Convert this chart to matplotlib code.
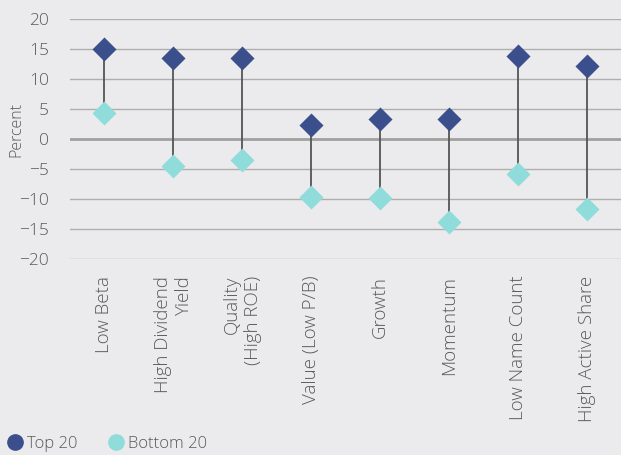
import matplotlib
matplotlib.use("Agg")
import matplotlib.pyplot as plt
from matplotlib.lines import Line2D

categories = ["Low Beta", "High Dividend\nYield", "Quality\n(High ROE)", "Value (Low P/B)",
              "Growth", "Momentum", "Low Name Count", "High Active Share"]
top20 = [15.0, 13.5, 13.5, 2.3, 3.3, 3.3, 13.9, 12.2]
bottom20 = [4.3, -4.5, -3.5, -9.7, -9.8, -13.8, -5.8, -11.7]
yticks = [20, 15, 10, 5, 0, -5, -10, -15, -20]
series_names = ["Top 20", "Bottom 20"]

BG = "#EBEBED"
C_TOP = "#3A4F8C"
C_BOT = "#8FDCDB"
TXT = "#5A5A5A"

plt.rcParams['font.family'] = ['Open Sans', 'DejaVu Sans']

fig = plt.figure(figsize=(6.21, 4.55), dpi=100, facecolor=BG)
ax = fig.add_axes([70/621, 1-259/455, 1-70/621, 240/455])
ax.set_facecolor(BG)

x = [i + 0.5 for i in range(len(categories))]
ax.set_xlim(0, len(categories))
ax.set_ylim(-20, 20)

for t in yticks:
    ax.axhline(t, color="#AEAEAE" if t != 0 else "#A0A0A0", lw=1.0 if t != 0 else 2.0, zorder=1)

for xi, a, b in zip(x, top20, bottom20):
    ax.plot([xi, xi], [a, b], color="#555555", lw=1.3, zorder=2, clip_on=False)
ax.scatter(x, top20, marker="D", s=150, color=C_TOP, zorder=3, clip_on=False, linewidths=0)
ax.scatter(x, bottom20, marker="D", s=150, color=C_BOT, zorder=3, clip_on=False, linewidths=0)

ax.set_yticks(yticks)
ax.set_yticklabels([str(t).replace("-", "\u2212") for t in yticks], fontsize=12.5,
                   color=TXT, fontweight="light")
ax.set_xticks(x)
ax.set_xticklabels(categories, rotation=90, fontsize=13.5, color=TXT, multialignment="right",
                   fontweight="light", linespacing=1.25)
ax.tick_params(axis="y", length=0, pad=15)
ax.tick_params(axis="x", length=0, pad=12)
for s in ax.spines.values():
    s.set_visible(False)
ax.set_ylabel("Percent", fontsize=11.5, color=TXT, fontweight="light")
ax.yaxis.set_label_coords(-0.083, 0.54)

handles = [Line2D([], [], marker="o", ls="", color=C_TOP, markersize=11),
           Line2D([], [], marker="o", ls="", color=C_BOT, markersize=11)]
fig.legend(handles, series_names, loc="lower left", bbox_to_anchor=(-0.013, -0.027), ncol=2,
           frameon=False, prop={"size": 12, "weight": "light"}, handletextpad=0.2,
           columnspacing=1.85, labelcolor=TXT, handlelength=1.0)

fig.savefig("out.png", dpi=100, facecolor=BG)
